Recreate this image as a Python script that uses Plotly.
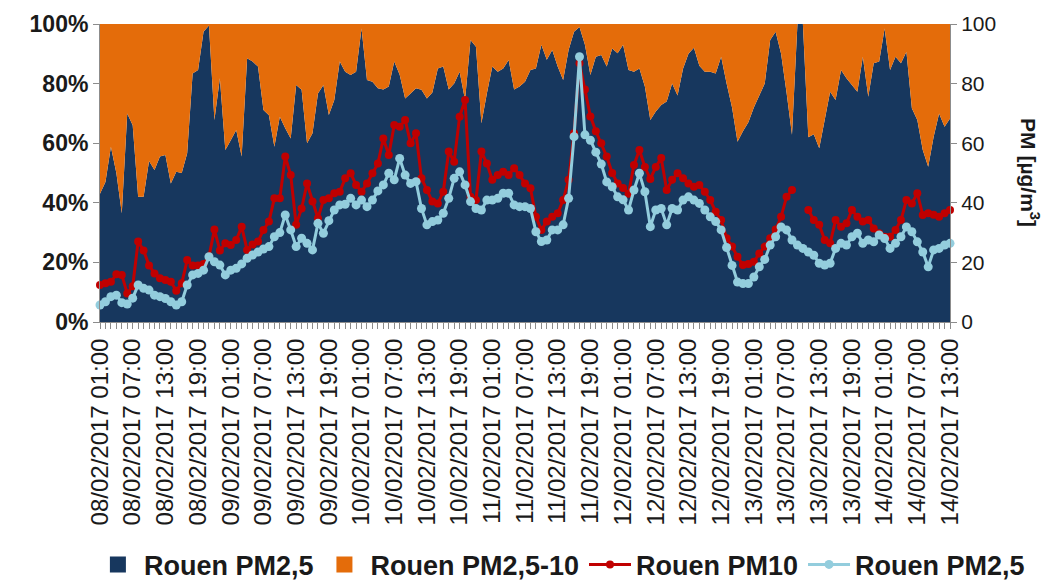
import plotly.graph_objects as go

# hourly index: 0 = 08/02/2017 01:00 ... 156 = 14/02/2017 13:00
hours = list(range(157))

tick_positions = list(range(0, 157, 6))
tick_labels = [
    "08/02/2017 01:00", "08/02/2017 07:00", "08/02/2017 13:00", "08/02/2017 19:00",
    "09/02/2017 01:00", "09/02/2017 07:00", "09/02/2017 13:00", "09/02/2017 19:00",
    "10/02/2017 01:00", "10/02/2017 07:00", "10/02/2017 13:00", "10/02/2017 19:00",
    "11/02/2017 01:00", "11/02/2017 07:00", "11/02/2017 13:00", "11/02/2017 19:00",
    "12/02/2017 01:00", "12/02/2017 07:00", "12/02/2017 13:00", "12/02/2017 19:00",
    "13/02/2017 01:00", "13/02/2017 07:00", "13/02/2017 13:00", "13/02/2017 19:00",
    "14/02/2017 01:00", "14/02/2017 07:00", "14/02/2017 13:00",
]

# share of PM2.5 in PM10 (%)
pm25_share = [
    43, 47, 58.8, 50, 36.5, 70, 66, 42, 42, 54,
    51, 55.5, 56, 46.5, 50.4, 50, 56.6, 83.4, 84.6, 97.4,
    99.5, 67.8, 81.8, 57.7, 61, 64.4, 55.5, 88.5, 87.4, 85.7,
    71.1, 69.4, 58.8, 68.9, 65, 61.6, 79.5, 77.9, 60, 63.3,
    76.7, 79.5, 69.5, 74.5, 87.4, 84, 82.9, 84, 98.5, 81.2,
    80.6, 78.4, 78, 79, 87.4, 83, 75, 76.7, 78.4, 77.9,
    75, 77, 85.1, 85.7, 78, 80, 84, 74.5, 94.6, 92.4,
    66.7, 76.7, 85.7, 84, 85.1, 87.9, 78, 79, 80.6, 84.6,
    85.1, 93, 88, 91.3, 85.7, 81.2, 91.3, 97.4, 99, 93,
    82.9, 89, 89.6, 85.7, 91.8, 90.2, 93, 84.6, 84, 85.1,
    79, 67.8, 70.6, 72.8, 74, 80, 76, 85, 90, 92,
    86, 84, 84, 83.4, 89, 80, 72, 60.5, 64, 67,
    72, 76, 80, 94.6, 97.4, 90, 77, 62.8, 100, 100,
    62, 63, 58.3, 67.8, 77.3, 74.5, 84.6, 81.8, 79.5, 77.3,
    89, 75.6, 86.8, 87.4, 98.5, 84.6, 89, 86.8, 90.7, 71.7,
    67.8, 57.7, 52.1, 62.2, 70, 65.5, 68.3,
]
coarse_share = [100 - v for v in pm25_share]

# PM10 concentration (µg/m3)
pm10 = [
    12.4, 13, 13.5, 16, 15.8, 9.6, 12, 27, 24, 19,
    16.3, 14.7, 14.1, 13.5, 10.5, 13, 20.8, 19, 19, 19.5,
    22, 31, 24, 26.4, 25.8, 27.5, 32, 24.2, 26, 27,
    30.9, 33.7, 41.5, 41.5, 55.5, 49.3, 32.6, 38.1, 46.5, 40.4,
    34.8, 40.9, 41.5, 43.2, 43.7, 48.2, 49.9, 46, 43.7, 46.5,
    49.9, 53.2, 61.6, 56, 66.1, 65.5, 67.8, 60, 63.3, 48.2,
    44.3, 40.4, 39.8, 43.7, 57.2, 53.8, 68.9, 74.5, 42, 40.9,
    57.2, 53.2, 47.7, 49.3, 50.4, 49.3, 51.6, 49.3, 46.5, 44.9,
    35.3, 30.9, 33.7, 35.3, 36.5, 40.9, 47.7, 63.3, 86.8, 78,
    69, 64, 60, 55.5, 50, 46.5, 45, 43, 52.7, 57.7,
    52, 48, 52, 55, 44.3, 47.7, 49.9, 48.2, 46.5, 45.4,
    46, 43.7, 40.9, 37, 34.2, 28.1, 25.3, 21.9, 19.1, 19.5,
    20.2, 23, 25.3, 28.1, 31, 35.3, 42, 44.3, None, None,
    37.6, 34.2, 32.6, 27.5, 26.4, 34.2, 32, 33.1, 37.6, 35.3,
    33.7, 34.2, 31.4, 29.8, 28.6, 28.6, 30.9, 34.2, 40.9, 39.8,
    43.2, 35.9, 36.5, 36, 35.3, 36.5, 37.6,
]

# PM2.5 concentration (µg/m3)
pm25 = [
    5.7, 6.8, 8.5, 9, 6.5, 6, 8, 12.4, 11.3, 10.7,
    9, 8.5, 7.9, 6.8, 5.7, 6.8, 12.4, 15.8, 16.3, 17.4,
    21.9, 20.2, 19.1, 15.8, 17.4, 18, 19.5, 21.4, 22.5, 23.5,
    24.5, 25.3, 28.6, 30, 35.9, 30.9, 25.3, 28.1, 26.4, 24.2,
    33.1, 29.8, 34, 37.6, 39.3, 39.5, 41.5, 39.3, 40.9, 38.7,
    40.9, 44, 46, 49.9, 47.7, 54.9, 49.3, 46.5, 47.1, 38.1,
    32.6, 33.7, 34.2, 36.5, 41.5, 48.2, 50.4, 46, 40.4, 38.1,
    37.6, 40.9, 40.9, 41.5, 43.2, 43.2, 39.3, 38.7, 38.7, 38.1,
    30.3, 27, 27.5, 30.9, 30.9, 32.6, 41.5, 62.2, 89, 62.8,
    61, 57, 53, 47, 45.4, 42, 41, 37.6, 44.3, 49.9,
    43.7, 32, 37.6, 38.1, 32.6, 38.1, 37.6, 40.9, 42, 40.9,
    39.8, 37.6, 35.3, 33.7, 30.9, 25, 19, 13.4, 12.9, 12.9,
    15.1, 18.5, 21, 25.8, 28.6, 31.9, 30.9, 27.5, 25.8, 24.7,
    23.5, 22.4, 19.7, 19.1, 19.7, 24.7, 26.4, 25.8, 28.6, 29.8,
    26.4, 27.5, 26.9, 29.2, 28, 24.7, 26.4, 28.6, 31.9, 30.3,
    26.9, 23.5, 18.5, 24.2, 24.7, 25.8, 26.4,
]

pct_ticks = [0, 20, 40, 60, 80, 100]
pct_labels = ["0%", "20%", "40%", "60%", "80%", "100%"]

NAVY = "#17375E"
ORANGE = "#E46C0A"
RED = "#C00000"
LBLUE = "#93CDDD"
FONT = "Liberation Sans, Arial, sans-serif"

fig = go.Figure()
# stacked 100% area (legend shown via square keys below)
fig.add_trace(go.Scatter(
    x=hours, y=pm25_share, name="Rouen PM2,5", stackgroup="share",
    mode="none", fillcolor=NAVY, yaxis="y", hoverinfo="skip", showlegend=False,
))
fig.add_trace(go.Scatter(
    x=hours, y=coarse_share, name="Rouen PM2,5-10", stackgroup="share",
    mode="none", fillcolor=ORANGE, yaxis="y", hoverinfo="skip", showlegend=False,
))
# legend keys for the areas (no data drawn)
fig.add_trace(go.Scatter(
    x=[None], y=[None], name="Rouen PM2,5", mode="markers",
    marker=dict(symbol="square", size=24, color=NAVY), yaxis="y",
))
fig.add_trace(go.Scatter(
    x=[None], y=[None], name="Rouen PM2,5-10", mode="markers",
    marker=dict(symbol="square", size=24, color=ORANGE), yaxis="y",
))
fig.add_trace(go.Scatter(
    x=hours, y=pm10, name="Rouen PM10", mode="lines+markers",
    line=dict(color=RED, width=3), marker=dict(color=RED, size=8),
    connectgaps=False, yaxis="y2", cliponaxis=False,
))
fig.add_trace(go.Scatter(
    x=hours, y=pm25, name="Rouen PM2,5", mode="lines+markers",
    line=dict(color=LBLUE, width=3), marker=dict(color=LBLUE, size=9),
    yaxis="y2", cliponaxis=False,
))

fig.update_layout(
    width=1053, height=586,
    margin=dict(l=100, r=103, t=24, b=264, autoexpand=False),
    paper_bgcolor="white", plot_bgcolor="white",
    font=dict(family=FONT, color="#1a1a1a"),
    showlegend=True,
    legend=dict(
        orientation="h", xref="paper", x=1.094, xanchor="right",
        yref="paper", y=-0.815, yanchor="middle", bgcolor="rgba(0,0,0,0)",
        traceorder="normal", font=dict(size=27, family=FONT, color="#1a1a1a", weight="bold"),
        itemwidth=42, itemsizing="trace", tracegroupgap=0,
    ),
    xaxis=dict(
        type="linear",
        range=[0, 156], tickmode="array", tickvals=tick_positions, ticktext=tick_labels,
        tickangle=-90, tickfont=dict(size=24, family=FONT, color="#1a1a1a"),
        showline=True, linecolor="#8c8c8c", linewidth=1, mirror=False,
        ticks="outside", ticklen=6, tickcolor="#8c8c8c",
        minor=dict(tickmode="linear", tick0=0, dtick=1, ticks="outside", ticklen=6,
                   tickcolor="#8c8c8c", showgrid=False),
        showgrid=False, zeroline=False, automargin=False,
    ),
    yaxis=dict(
        range=[0, 100], tickmode="array", tickvals=pct_ticks, ticktext=pct_labels,
        tickfont=dict(size=23, family=FONT, color="#1a1a1a", weight="bold"),
        showline=True, linecolor="#8c8c8c", ticks="outside", ticklen=6, tickcolor="#8c8c8c",
        showgrid=False, zeroline=False, automargin=False,
    ),
    yaxis2=dict(
        range=[0, 100], overlaying="y", side="right", tickmode="array",
        tickvals=pct_ticks, tickfont=dict(size=21, family=FONT, color="#1a1a1a"),
        showline=True, linecolor="#8c8c8c", ticks="outside", ticklen=6, tickcolor="#8c8c8c",
        showgrid=False, zeroline=False, automargin=False,
    ),
    annotations=[dict(
        text="PM [µg/m<sup>3</sup>]", xref="paper", yref="paper",
        x=1.094, y=0.5, xanchor="center", yanchor="middle", textangle=90,
        showarrow=False, font=dict(size=21, family=FONT, color="#1a1a1a", weight="bold"),
    )],
)

fig.write_html("out.html")
